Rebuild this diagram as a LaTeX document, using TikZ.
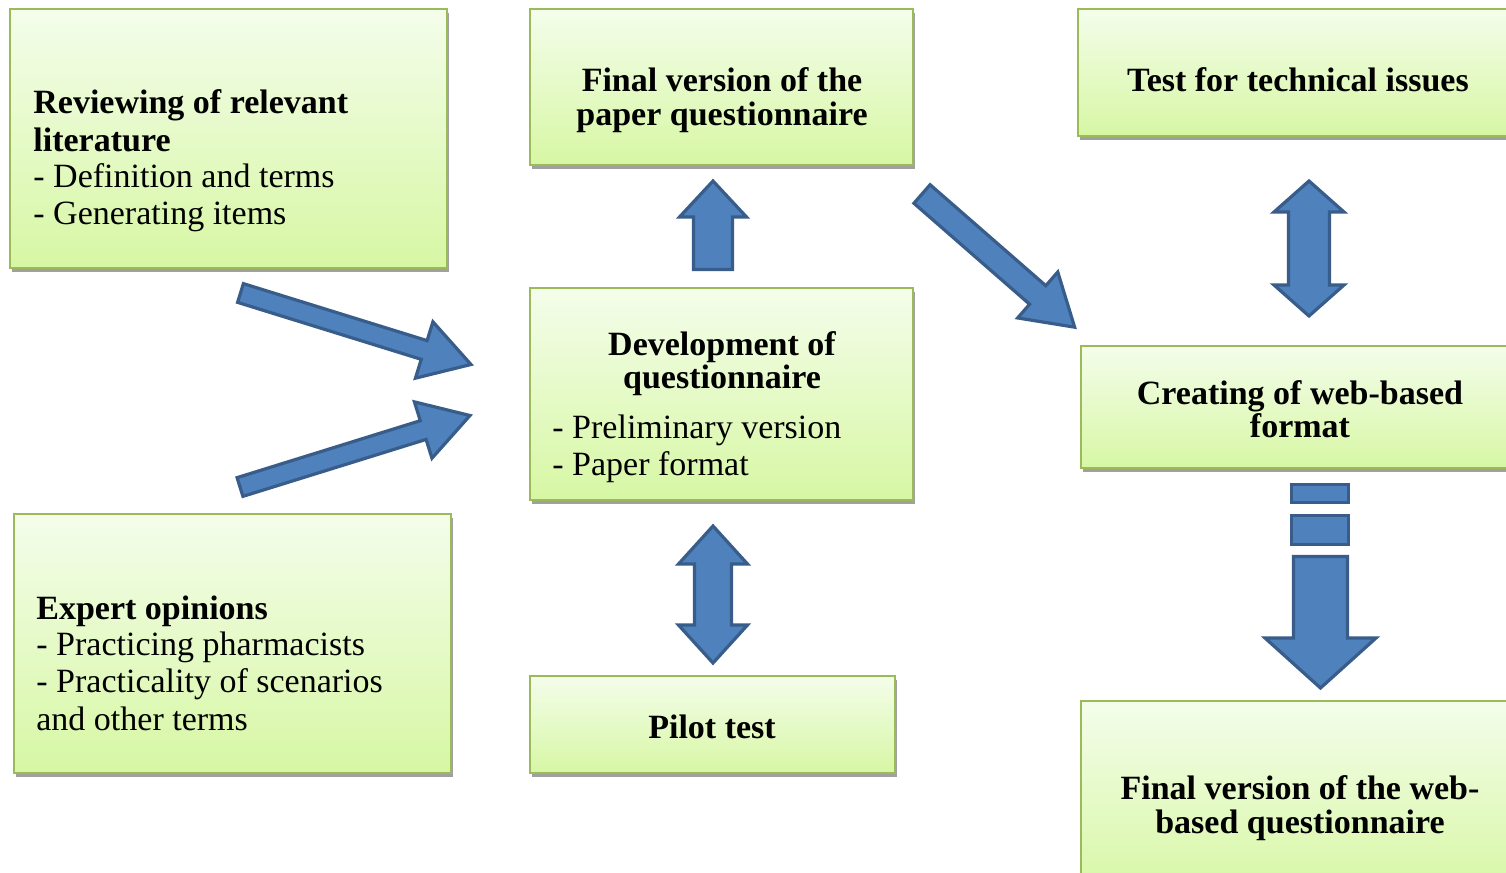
\documentclass[tikz,border=0pt]{standalone}
\usepackage{fontspec}
\setmainfont{Liberation Serif}
\usetikzlibrary{calc}
\definecolor{boxgreen}{HTML}{9BBB59}
\definecolor{boxtop}{HTML}{F4FDEB}
\definecolor{boxbot}{HTML}{D7F7A4}
\definecolor{arrowfill}{HTML}{4F81BD}
\definecolor{arrowdraw}{HTML}{385D8A}
\definecolor{shadowgray}{HTML}{A0A0A0}
\tikzset{
  box/.style={draw=boxgreen, line width=1.25pt, top color=boxtop, bottom color=boxbot,
    inner sep=0pt, outer sep=0pt,
    preaction={fill=shadowgray, transform canvas={xshift=1pt, yshift=-2pt}}},
  barrow/.style={fill=arrowfill, draw=arrowdraw, line width=1.6pt, line join=miter},
  tx/.style={inner sep=0pt, font=\fontsize{17}{18}\selectfont},
  tb/.style={inner sep=0pt, font=\fontsize{17}{18}\selectfont\bfseries},
}
\newcommand\mybox[5]{\node[box, minimum width={(#4-#2)*0.5pt}, minimum height={(#5-#3)*0.5pt}] (#1) at ({(#2+#4)/2},{(#3+#5)/2}) {};}
% single block arrow: from, to, shaft half, head half, head length (px)
\newcommand\sarrow[5]{%
  \draw[barrow] let \p1=(#1), \p2=(#2), \n1={atan2(\y2-\y1,\x2-\x1)}, \n2={veclen(\x2-\x1,\y2-\y1)} in
  [shift={(\p1)}, rotate=\n1]
  (0pt,{#3*0.5pt}) -- ({\n2-#5*0.5pt},{#3*0.5pt}) -- ({\n2-#5*0.5pt},{#4*0.5pt}) -- (\n2,0pt)
  -- ({\n2-#5*0.5pt},{-#4*0.5pt}) -- ({\n2-#5*0.5pt},{-#3*0.5pt}) -- (0pt,{-#3*0.5pt}) -- cycle;}
% double block arrow
\newcommand\darrow[5]{%
  \draw[barrow] let \p1=(#1), \p2=(#2), \n1={atan2(\y2-\y1,\x2-\x1)}, \n2={veclen(\x2-\x1,\y2-\y1)} in
  [shift={(\p1)}, rotate=\n1]
  (0pt,0pt) -- ({#5*0.5pt},{#4*0.5pt}) -- ({#5*0.5pt},{#3*0.5pt}) -- ({\n2-#5*0.5pt},{#3*0.5pt})
  -- ({\n2-#5*0.5pt},{#4*0.5pt}) -- (\n2,0pt) -- ({\n2-#5*0.5pt},{-#4*0.5pt}) -- ({\n2-#5*0.5pt},{-#3*0.5pt})
  -- ({#5*0.5pt},{-#3*0.5pt}) -- ({#5*0.5pt},{-#4*0.5pt}) -- cycle;}
\begin{document}
\begin{tikzpicture}[x=0.5pt, y=-0.5pt]
\useasboundingbox (0,0) rectangle (1506,873);
\fill[white] (0,0) rectangle (1506,873);
\clip (0,0) rectangle (1506,873);

% boxes
\mybox{b1}{10}{9}{447}{268}
\mybox{b2}{530}{9}{913}{165}
\mybox{b3}{1078}{9}{1525}{136}
\mybox{b4}{530}{288}{913}{500}
\mybox{b5}{1081}{346}{1525}{468}
\mybox{b6}{14}{514}{451}{773}
\mybox{b7}{530}{676}{895}{773}
\mybox{b8}{1081}{701}{1525}{895}

% texts
\node[tb, anchor=base west] (t1a) at (33,113) {Reviewing of relevant};
\node[tb, anchor=base west] (t1b) at (33,151) {literature};
\node[tx, anchor=base west] (t1c) at (33,187) {- Definition and terms};
\node[tx, anchor=base west] (t1d) at (33,224) {- Generating items};

\node[tb, anchor=base] (t2a) at (722,91) {Final version of the};
\node[tb, anchor=base] (t2b) at (722,125) {paper questionnaire};

\node[tb, anchor=base] (t3a) at (1298,91) {Test for technical issues};

\node[tb, anchor=base] (t4a) at (722,355) {Development of};
\node[tb, anchor=base] (t4b) at (722,388) {questionnaire};
\node[tx, anchor=base west] (t4c) at (552,438) {- Preliminary version};
\node[tx, anchor=base west] (t4d) at (552,475) {- Paper format};

\node[tb, anchor=base] (t5a) at (1300,404) {Creating of web-based};
\node[tb, anchor=base] (t5b) at (1300,437) {format};

\node[tb, anchor=base west] (t6a) at (36,619) {Expert opinions};
\node[tx, anchor=base west] (t6b) at (36,655) {- Practicing pharmacists};
\node[tx, anchor=base west] (t6c) at (36,692) {- Practicality of scenarios};
\node[tx, anchor=base west] (t6d) at (36,730) {and other terms};

\node[tb, anchor=base] (t7a) at (712,738) {Pilot test};

\node[tb, anchor=base] (t8a) at (1300,799) {Final version of the web-};
\node[tb, anchor=base] (t8b) at (1300,833) {based questionnaire};

% arrow end points
\coordinate (aS) at (240.5,293);  \coordinate (aE) at (471,364.5);
\coordinate (bS) at (240,487);    \coordinate (bE) at (470,415.5);
\coordinate (cS) at (922,194);    \coordinate (cE) at (1075,327.5);
\coordinate (dS) at (713,269.5);  \coordinate (dE) at (713,181);
\coordinate (eS) at (713,526);    \coordinate (eE) at (713,663);
\coordinate (fS) at (1309,181);   \coordinate (fE) at (1309,316);
\coordinate (gS) at (1320.5,556.5); \coordinate (gE) at (1320.5,688);

\sarrow{aS}{aE}{9.8}{29.5}{49}
\sarrow{bS}{bE}{9.8}{29.5}{49}
\sarrow{cS}{cE}{12.3}{30.5}{49}
\sarrow{dS}{dE}{19.5}{33.5}{36}
\darrow{eS}{eE}{18.5}{34.5}{38}
\darrow{fS}{fE}{20.5}{35}{31}
\draw[barrow] (1291.5,484.5) rectangle (1348.5,502.5);
\draw[barrow] (1291.5,515.5) rectangle (1348.5,544.5);
\sarrow{gS}{gE}{27}{55.5}{50}
\end{tikzpicture}
\end{document}
